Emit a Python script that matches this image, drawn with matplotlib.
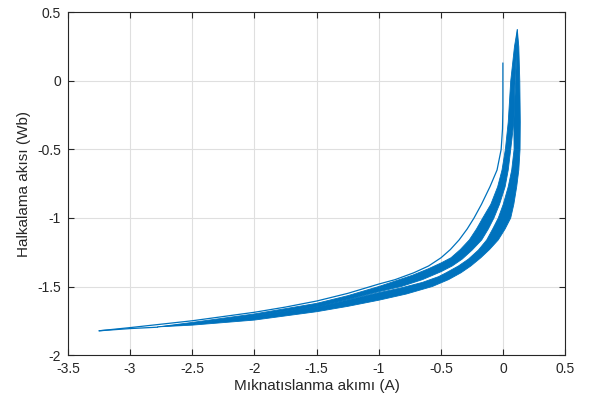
import matplotlib
matplotlib.use("Agg")
import matplotlib.pyplot as plt

# thin first-cycle curve (initial branch going down to the first peak)
first_i = [-0.003, -0.003, -0.006, -0.017, -0.05, -0.106, -0.175, -0.235, -0.29, -0.355,
           -0.425, -0.50, -0.60, -0.72, -0.87, -1.0, -1.25, -1.5, -1.75, -2.0,
           -2.5, -3.0, -3.247]
first_psi = [0.13, -0.2, -0.35, -0.5, -0.65, -0.77, -0.9, -1.0, -1.08, -1.16,
             -1.23, -1.29, -1.35, -1.40, -1.45, -1.482, -1.55, -1.606, -1.65, -1.688,
             -1.75, -1.80, -1.823]

# thin return from the first peak into the band
return_i = [-3.247, -3.0, -2.78]
return_psi = [-1.823, -1.807, -1.797]

# band 1 (descending branches of later cycles): outer and inner edge
band1_outer_i = [0.113, 0.09, 0.06, 0.04, 0.017, -0.01, -0.045, -0.10, -0.165, -0.215,
                 -0.273, -0.345, -0.42, -0.5, -0.60, -0.73, -1.0, -1.25, -1.5, -2.0,
                 -2.5, -2.78]
band1_outer_psi = [0.377, 0.25, 0.0, -0.3, -0.5, -0.65, -0.772, -0.9, -1.0, -1.08,
                   -1.16, -1.23, -1.29, -1.328, -1.37, -1.418, -1.50, -1.567, -1.623, -1.70,
                   -1.762, -1.795]
band1_inner_i = [0.113, 0.095, 0.085, 0.06, 0.04, 0.015, -0.03, -0.075, -0.12, -0.173,
                 -0.25, -0.33, -0.41, -0.5, -0.65, -0.82, -1.0, -1.25, -1.47, -2.0,
                 -2.5, -2.78]
band1_inner_psi = [0.377, 0.0, -0.3, -0.5, -0.65, -0.772, -0.9, -1.0, -1.08, -1.16,
                   -1.234, -1.30, -1.35, -1.392, -1.45, -1.50, -1.538, -1.595, -1.645, -1.71,
                   -1.772, -1.795]

# band 2 (ascending branches of later cycles): outer and inner edge
band2_outer_i = [0.113, 0.125, 0.133, 0.137, 0.135, 0.125, 0.108, 0.085, 0.06, 0.015,
                 -0.04, -0.11, -0.18, -0.26, -0.34, -0.44, -0.57, -0.78, -1.0, -1.25,
                 -1.5, -2.0, -2.5, -2.78]
band2_outer_psi = [0.377, 0.25, 0.0, -0.3, -0.5, -0.65, -0.772, -0.9, -1.0, -1.08,
                   -1.16, -1.23, -1.29, -1.35, -1.40, -1.45, -1.50, -1.555, -1.60, -1.645,
                   -1.684, -1.745, -1.782, -1.795]
band2_inner_i = [0.113, 0.10, 0.085, 0.087, 0.068, 0.04, 0.0, -0.04, -0.085, -0.133,
                 -0.20, -0.28, -0.36, -0.46, -0.52, -0.65, -0.82, -1.0, -1.25, -1.47,
                 -2.0, -2.5, -2.78]
band2_inner_psi = [0.377, 0.0, -0.3, -0.5, -0.65, -0.772, -0.9, -1.0, -1.08, -1.16,
                   -1.234, -1.30, -1.35, -1.40, -1.428, -1.47, -1.51, -1.545, -1.598, -1.645,
                   -1.71, -1.772, -1.795]

x_ticks = [-3.5, -3, -2.5, -2, -1.5, -1, -0.5, 0, 0.5]
y_ticks = [-2, -1.5, -1, -0.5, 0, 0.5]

blue = "#0072BD"
dark = "#262626"

plt.rcParams["font.family"] = ["Liberation Sans", "DejaVu Sans"]
plt.rcParams["axes.unicode_minus"] = False

fig = plt.figure(figsize=(5.9, 3.96), dpi=100)
ax = fig.add_axes([0.115, 0.1035, 0.8434, 0.865])

# bands: outer edge down, inner edge back up
ax.fill(band1_outer_i + band1_inner_i[::-1], band1_outer_psi + band1_inner_psi[::-1],
        color=blue, lw=0.6, zorder=3)
ax.fill(band2_outer_i + band2_inner_i[::-1], band2_outer_psi + band2_inner_psi[::-1],
        color=blue, lw=0.6, zorder=3)

ax.plot(first_i, first_psi, color=blue, lw=0.9, zorder=4)
ax.plot(return_i, return_psi, color=blue, lw=0.9, zorder=4)

ax.set_xlim(-3.5, 0.5)
ax.set_ylim(-2, 0.5)
ax.set_xticks(x_ticks)
ax.set_xticklabels([f"{t:g}" for t in x_ticks])
ax.set_yticks(y_ticks)
ax.set_yticklabels([f"{t:g}" for t in y_ticks])

ax.grid(True, color="#DFDFDF", lw=0.8)
ax.set_axisbelow(True)
ax.tick_params(direction="in", length=4, width=0.8, colors=dark, labelsize=10,
               top=True, right=True, pad=5)
for s in ax.spines.values():
    s.set_color(dark)
    s.set_linewidth(0.8)

ax.set_xlabel("Mıknatıslanma akımı (A)", fontsize=11, color=dark, labelpad=2)
ax.set_ylabel("Halkalama akısı (Wb)", fontsize=11, color=dark, labelpad=4)

fig.savefig("out.png", dpi=100)
